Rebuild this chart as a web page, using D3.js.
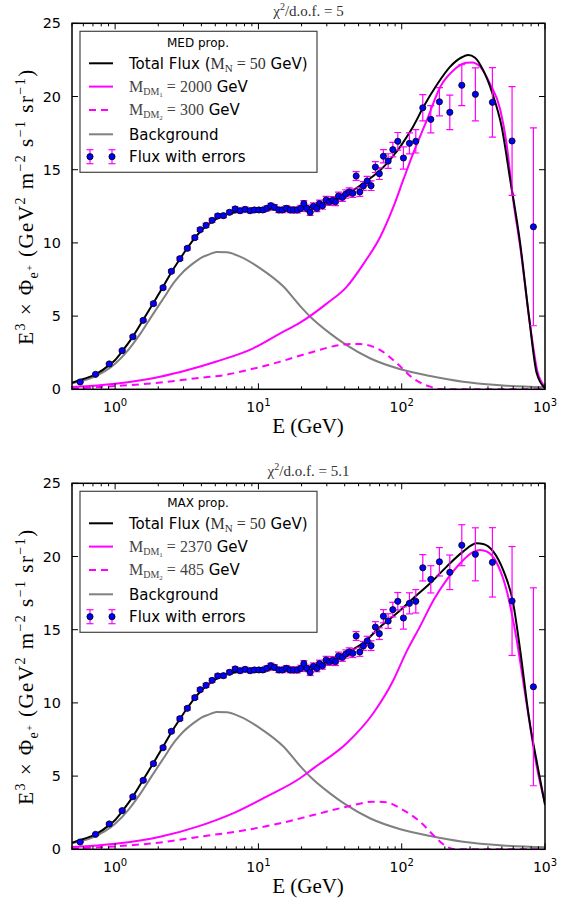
<!DOCTYPE html>
<html><head><meta charset="utf-8">
<script src="https://cdn.jsdelivr.net/npm/d3@7"></script>
<style>body{margin:0;background:#fff}</style>
</head><body>
<svg id="c" width="570" height="900"></svg>
<script>
// ---------- data ----------
const dataE = [0.57,0.73,0.91,1.12,1.33,1.57,1.85,2.16,2.47,2.83,3.19,3.60,3.92,4.31,4.75,5.20,5.70,6.28,6.88,7.45,8.08,8.75,9.38,10.07,10.73,11.45,12.2,12.93,13.88,14.7,15.68,16.63,17.54,18.7,19.77,20.75,21.78,22.96,24.2,25.58,26.67,27.98,29.68,31.28,33.0,34.5,36.2,38.6,40.7,43.0,45.6,48.1,51.0,54.0,57.4,61.1,65.5,69.8,74.5,80.4,86.7,93.9,102.8,113.2,125.4,140.3,159.6,183.3,216.6,262.6,326.7,429.5,589,830];
const dataFlux = [0.50,1.02,1.73,2.64,3.59,4.71,5.85,6.94,8.06,8.92,9.63,10.36,10.90,11.20,11.54,11.84,11.86,12.09,12.32,12.20,12.29,12.20,12.25,12.25,12.25,12.36,12.54,12.43,12.25,12.25,12.36,12.25,12.25,12.25,12.36,12.68,12.36,12.09,12.50,12.36,12.68,12.54,12.93,12.81,12.91,12.81,13.20,13.11,13.34,13.48,13.39,14.57,13.48,13.89,14.23,13.91,15.18,14.73,15.92,15.59,16.37,16.94,15.80,16.80,16.94,19.23,18.44,19.64,18.92,20.77,20.15,19.60,16.96,11.10];
const dataErr = [0.05,0.05,0.06,0.07,0.08,0.09,0.10,0.10,0.11,0.11,0.12,0.12,0.12,0.13,0.13,0.13,0.14,0.14,0.14,0.15,0.15,0.15,0.16,0.16,0.16,0.17,0.17,0.18,0.18,0.18,0.19,0.19,0.20,0.20,0.21,0.21,0.22,0.22,0.23,0.23,0.24,0.24,0.25,0.25,0.26,0.26,0.27,0.27,0.28,0.28,0.29,0.30,0.30,0.30,0.32,0.33,0.37,0.40,0.45,0.50,0.50,0.60,0.76,0.72,0.80,0.90,0.93,0.97,1.18,1.40,1.81,2.37,3.72,6.76];

const bgE = [0.5,0.7,1.0,1.25,1.5,1.8,2.17,2.6,3.0,3.5,4.0,4.5,5.1,6.0,7.45,10.3,15,19.5,23,31.6,41,60,98,158,268,462,1000];
const bgV = [0.41,0.82,1.75,2.75,3.8,5.0,6.2,7.35,8.05,8.6,9.0,9.2,9.38,9.36,9.06,8.26,7.0,5.7,4.96,3.82,3.03,2.12,1.37,0.91,0.52,0.29,0.14];

const medTotalE = [0.5,0.6,0.73,0.91,1.0,1.12,1.33,1.57,1.85,2.16,2.47,2.83,3.19,3.6,4.0,4.5,5.2,6,7,8.5,10,12,15,20,25,31.6,38,46,54,62,71,80,88,95,103,120,142,176,218,263,291,325,370,430,498,570,671,773,876,1000];
const medTotalV = [0.45,0.7,1.02,1.65,2.0,2.6,3.6,4.75,5.9,7.0,8.0,8.9,9.65,10.35,10.85,11.3,11.7,11.95,12.1,12.2,12.25,12.28,12.3,12.35,12.5,12.75,13.1,13.6,14.07,14.5,14.98,15.5,16.0,16.4,16.91,17.94,19.3,20.8,22.04,22.68,22.83,22.65,21.8,20.2,17.94,14.4,9.97,4.96,1.09,0.07];
const medDM1E = [0.5,1,2.06,3.16,5.1,9.2,14.2,19.5,30.1,41.3,54.4,70.9,87.6,102.5,120,150,186,230,282,310,352,412,488,539,600,671,790,886,1000];
const medDM1V = [0.15,0.38,0.86,1.3,1.9,2.8,3.82,4.55,5.87,7.0,8.6,10.42,12.47,14.3,16.1,18.4,20.67,21.8,22.3,22.33,22.04,20.9,19.08,16.8,12.93,9.74,4.28,1.2,0.18];
const medDM2E = [0.5,1,2,3.9,5.6,8.7,14.2,24.2,37.3,45,51.2,70.9,92.4,120,158,186,220,1000];
const medDM2V = [0.05,0.22,0.45,0.78,0.95,1.35,1.89,2.57,3.03,3.1,3.09,2.68,1.78,0.75,0.18,0.02,0,0];

const maxTotalE = [0.5,0.6,0.73,0.91,1.0,1.12,1.33,1.57,1.85,2.16,2.47,2.83,3.19,3.6,4.0,4.5,5.2,6,7,8.5,10,12,15,20,25,31.6,38,45,54,71,92.4,120,158,206,268,334,370,436,510,600,671,773,898,1000];
const maxTotalV = [0.45,0.7,1.02,1.65,2.0,2.6,3.6,4.75,5.9,7.0,8.0,8.9,9.65,10.35,10.85,11.3,11.7,11.95,12.1,12.2,12.25,12.28,12.3,12.35,12.5,12.75,13.1,13.6,14.1,15.21,16.12,17.14,18.17,19.31,20.33,20.9,20.86,20.33,19.08,16.8,13.61,9.0,5.42,3.03];
const maxDM1E = [0.5,1,2.06,3.9,6.7,11.4,19.5,24.2,41.3,63.3,87.6,108,134,167,206,256,318,352,394,462,539,617,750,876,1000];
const maxDM1V = [0.15,0.38,0.86,1.6,2.47,3.6,4.85,5.53,7.24,9.29,11.56,13.5,15.21,17.03,18.4,19.54,20.33,20.45,20.33,19.54,17.71,14.98,9.74,5.64,3.14];
const maxDM2E = [0.5,1,2,3.9,8,14.2,24.2,41.3,63.3,78.4,97.6,134,175,206,240,1000];
const maxDM2V = [0.05,0.2,0.45,0.86,1.3,1.78,2.34,2.91,3.25,3.21,2.8,1.89,0.75,0.18,0,0];

const yTicks = [0,5,10,15,20,25];
const xMajor = [1,10,100,1000];
const xMajorExp = ["0","1","2","3"];
const panelTitles = ["5","5.1"];
const propNames = ["MED prop.","MAX prop."];
const dm1Masses = ["2000","2370"];
const dm2Masses = ["300","485"];
const nMass = "50";

// ---------- drawing ----------
const svg = d3.select("#c");
const SANS = "DejaVu Sans", SERIF = "Liberation Serif";
const x = d3.scaleLog().domain([0.5,1000]).range([72,545]);
const panels = [
  {top:23.3, tot:[medTotalE,medTotalV], dm1:[medDM1E,medDM1V], dm2:[medDM2E,medDM2V]},
  {top:483.3, tot:[maxTotalE,maxTotalV], dm1:[maxDM1E,maxDM1V], dm2:[maxDM2E,maxDM2V]}
];

function richText(sel, parts){
  let cur = 0;
  parts.forEach(p=>{
    const ts = sel.append("tspan").text(p.t)
      .attr("font-family", p.font).attr("font-size", p.size)
      .attr("dy", (p.off||0) - cur);
    if (p.fill) ts.attr("fill", p.fill);
    cur = p.off||0;
  });
  return sel;
}

panels.forEach((P,i)=>{
  const g = svg.append("g");
  const y = d3.scaleLinear().domain([0,25]).range([P.top+366, P.top]);
  const clipId = "clip"+i;
  svg.append("clipPath").attr("id",clipId).append("rect")
    .attr("x",72).attr("y",P.top).attr("width",473).attr("height",366);
  const plot = g.append("g").attr("clip-path",`url(#${clipId})`);
  const line = (E,V)=> d3.line().x(d=>x(d[0])).y(d=>y(d[1])).curve(d3.curveMonotoneX)(E.map((e,k)=>[e,V[k]]));

  plot.append("path").attr("d",line(bgE,bgV)).attr("fill","none").attr("stroke","#808080").attr("stroke-width",2);
  plot.append("path").attr("d",line(P.dm2[0],P.dm2[1])).attr("fill","none").attr("stroke","#ff00ff").attr("stroke-width",2).attr("stroke-dasharray","7,5");
  plot.append("path").attr("d",line(P.dm1[0],P.dm1[1])).attr("fill","none").attr("stroke","#ff00ff").attr("stroke-width",2);
  plot.append("path").attr("d",line(P.tot[0],P.tot[1])).attr("fill","none").attr("stroke","#000").attr("stroke-width",2);

  const eb = plot.append("g").attr("stroke","#ff00ff").attr("stroke-width",1.2);
  dataE.forEach((e,k)=>{
    const cx = x(e), y1 = y(dataFlux[k]-dataErr[k]), y2 = y(dataFlux[k]+dataErr[k]);
    eb.append("line").attr("x1",cx).attr("x2",cx).attr("y1",y1).attr("y2",y2);
    eb.append("line").attr("x1",cx-3.5).attr("x2",cx+3.5).attr("y1",y1).attr("y2",y1);
    eb.append("line").attr("x1",cx-3.5).attr("x2",cx+3.5).attr("y1",y2).attr("y2",y2);
  });
  plot.append("g").selectAll("circle").data(dataE).join("circle")
    .attr("cx",d=>x(d)).attr("cy",(d,k)=>y(dataFlux[k])).attr("r",3.1)
    .attr("fill","#0000ff").attr("stroke","#000").attr("stroke-width",0.8);

  g.append("rect").attr("x",72).attr("y",P.top).attr("width",473).attr("height",366)
    .attr("fill","none").attr("stroke","#000").attr("stroke-width",1.5);

  const tk = g.append("g").attr("stroke","#000").attr("stroke-width",1);
  yTicks.forEach(v=>{
    tk.append("line").attr("x1",72).attr("x2",78).attr("y1",y(v)).attr("y2",y(v));
    tk.append("line").attr("x1",539).attr("x2",545).attr("y1",y(v)).attr("y2",y(v));
  });
  const minor = [];
  [0.1,1,10,100].forEach(d=>{ for(let m=2;m<=9;m++){ const v=d*m; if(v>=0.5 && v<=1000) minor.push(v);} });
  minor.forEach(v=>{
    tk.append("line").attr("x1",x(v)).attr("x2",x(v)).attr("y1",P.top+366).attr("y2",P.top+363);
    tk.append("line").attr("x1",x(v)).attr("x2",x(v)).attr("y1",P.top).attr("y2",P.top+3);
  });
  xMajor.forEach(v=>{
    tk.append("line").attr("x1",x(v)).attr("x2",x(v)).attr("y1",P.top+366).attr("y2",P.top+360);
    tk.append("line").attr("x1",x(v)).attr("x2",x(v)).attr("y1",P.top).attr("y2",P.top+6);
  });

  yTicks.forEach(v=>{
    g.append("text").attr("x",61).attr("y",y(v)+5).attr("text-anchor","end")
      .attr("font-family",SANS).attr("font-size",14.4).text(v);
  });
  xMajor.forEach((v,k)=>{
    const t = g.append("text").attr("x",x(v)).attr("y",P.top+388.5).attr("text-anchor","middle");
    richText(t,[{t:"10",font:SANS,size:14},{t:xMajorExp[k],font:SANS,size:10,off:-6}]);
  });

  const xl = g.append("text").attr("x",308).attr("y",P.top+410).attr("text-anchor","middle");
  richText(xl,[{t:"E (GeV)",font:SERIF,size:21}]);
  const yl = g.append("text").attr("transform",`translate(33,${P.top+184}) rotate(-90)`).attr("text-anchor","middle")
    .attr("textLength",275).attr("lengthAdjust","spacing");
  richText(yl,[
    {t:"E",font:SERIF,size:21},{t:"3",font:SERIF,size:14,off:-8},
    {t:" × Φ",font:SERIF,size:21,off:0},{t:"e",font:SERIF,size:14,off:5},{t:"+",font:SERIF,size:10,off:0},
    {t:"  (GeV",font:SERIF,size:21,off:0},{t:"2",font:SERIF,size:14,off:-8},
    {t:" m",font:SERIF,size:21,off:0},{t:"−2",font:SERIF,size:14,off:-8},
    {t:" s",font:SERIF,size:21,off:0},{t:"−1",font:SERIF,size:14,off:-8},
    {t:" sr",font:SERIF,size:21,off:0},{t:"−1",font:SERIF,size:14,off:-8},
    {t:")",font:SERIF,size:21,off:0}
  ]);

  const tt = g.append("text").attr("x",308.5).attr("y",P.top-7).attr("text-anchor","middle").attr("fill","#333");
  richText(tt,[{t:"χ",font:SERIF,size:15},{t:"2",font:SERIF,size:10,off:-6},{t:"/d.o.f. = "+panelTitles[i],font:SERIF,size:15,off:0}]);

  const L = g.append("g");
  const lt = P.top+8;
  L.append("rect").attr("x",80).attr("y",lt).attr("width",237).attr("height",141)
    .attr("fill","#fff").attr("stroke","#444").attr("stroke-width",1.2);
  L.append("text").attr("x",198).attr("y",lt+16).attr("text-anchor","middle")
    .attr("font-family",SANS).attr("font-size",12).text(propNames[i]);
  const rows = [lt+32, lt+55.3, lt+78.6, lt+103, lt+125.4];
  L.append("line").attr("x1",89).attr("x2",113).attr("y1",rows[0]).attr("y2",rows[0]).attr("stroke","#000").attr("stroke-width",2);
  L.append("line").attr("x1",89).attr("x2",113).attr("y1",rows[1]).attr("y2",rows[1]).attr("stroke","#ff00ff").attr("stroke-width",2);
  L.append("line").attr("x1",89).attr("x2",113).attr("y1",rows[2]).attr("y2",rows[2]).attr("stroke","#ff00ff").attr("stroke-width",2).attr("stroke-dasharray","7,5");
  L.append("line").attr("x1",89).attr("x2",113).attr("y1",rows[3]).attr("y2",rows[3]).attr("stroke","#808080").attr("stroke-width",2);
  [90,112].forEach(cx=>{
    const r=rows[4];
    L.append("line").attr("x1",cx).attr("x2",cx).attr("y1",r-7).attr("y2",r+7).attr("stroke","#ff00ff").attr("stroke-width",1.2);
    L.append("line").attr("x1",cx-3.5).attr("x2",cx+3.5).attr("y1",r-7).attr("y2",r-7).attr("stroke","#ff00ff").attr("stroke-width",1.2);
    L.append("line").attr("x1",cx-3.5).attr("x2",cx+3.5).attr("y1",r+7).attr("y2",r+7).attr("stroke","#ff00ff").attr("stroke-width",1.2);
    L.append("circle").attr("cx",cx).attr("cy",r).attr("r",3.1).attr("fill","#0000ff").attr("stroke","#000").attr("stroke-width",0.8);
  });
  const tx = 129;
  const t1 = L.append("text").attr("x",tx).attr("y",rows[0]+5.5);
  richText(t1,[{t:"Total Flux (",font:SANS,size:15},{t:"M",font:SERIF,size:16,fill:"#333"},{t:"N",font:SERIF,size:11,off:3,fill:"#333"},{t:" = "+nMass,font:SERIF,size:16,off:0,fill:"#333"},{t:" GeV)",font:SANS,size:15}]);
  const t2 = L.append("text").attr("x",tx).attr("y",rows[1]+5.5);
  richText(t2,[{t:"M",font:SERIF,size:16,fill:"#444"},{t:"DM",font:SERIF,size:10,off:3,fill:"#444"},{t:"1",font:SERIF,size:7,off:5,fill:"#444"},{t:" = "+dm1Masses[i],font:SERIF,size:16,off:0,fill:"#444"},{t:" GeV",font:SANS,size:15}]);
  const t3 = L.append("text").attr("x",tx).attr("y",rows[2]+5.5);
  richText(t3,[{t:"M",font:SERIF,size:16,fill:"#444"},{t:"DM",font:SERIF,size:10,off:3,fill:"#444"},{t:"2",font:SERIF,size:7,off:5,fill:"#444"},{t:" = "+dm2Masses[i],font:SERIF,size:16,off:0,fill:"#444"},{t:" GeV",font:SANS,size:15}]);
  L.append("text").attr("x",tx).attr("y",rows[3]+5.5).attr("font-family",SANS).attr("font-size",15).text("Background");
  L.append("text").attr("x",tx).attr("y",rows[4]+5.5).attr("font-family",SANS).attr("font-size",15).text("Flux with errors");
});
</script>
</body></html>
